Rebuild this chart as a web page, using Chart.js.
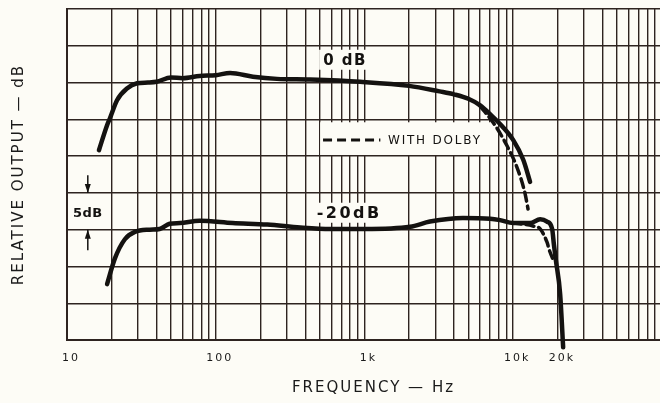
<!DOCTYPE html>
<html>
<head>
<meta charset="utf-8">
<script src="https://cdn.jsdelivr.net/npm/chart.js@4.4.1/dist/chart.umd.min.js"></script>
<style>
  html, body { margin: 0; padding: 0; overflow: hidden; background: #fdfcf6; }
  #wrap { width: 680px; height: 403px; }
</style>
</head>
<body>
<div id="wrap"><canvas id="chart" width="680" height="403"></canvas></div>
<script>
// Response at 0 dB input level (Hz, dB)
const upperFreq = [16.4, 18.6, 19.5, 21.7, 25.3, 29.6, 35, 40, 50, 60, 78, 100, 125, 178, 258, 430, 935,
  2000, 3200, 4000, 5000, 6000, 7000, 8500, 10000, 11700, 13000];
const upperLevel = [-9.2, -5.8, -4.8, -2.4, -0.8, -0.1, 0, 0.1, 0.7, 0.6, 0.9, 1.0, 1.3, 0.8, 0.5, 0.4, 0.1,
  -0.45, -1.2, -1.6, -2.2, -3.1, -4.3, -6.0, -7.8, -10.5, -13.5];

// 0 dB with Dolby (only where it leaves the plain curve)
const upperDolbyFreq = [6000, 7500, 9100, 10600, 12000, 12600];
const upperDolbyLevel = [-3.2, -5.7, -8.6, -11.5, -15.0, -17.2];

// Response at -20 dB input level
const lowerFreq = [18.6, 21, 24.5, 28.6, 36, 42, 49, 57.5, 78, 130, 222, 370, 590, 1000, 2030, 2760,
  4600, 7000, 8170, 10000, 13000, 15200, 16900, 18300, 18800, 19400, 20700, 21700];
const lowerLevel = [-27.4, -23.9, -21.3, -20.3, -20.0, -19.9, -19.2, -19.1, -18.8, -19.1, -19.3, -19.7, -19.9, -19.9, -19.6, -18.9,
  -18.4, -18.5, -18.7, -19.1, -19.1, -18.6, -18.9, -19.9, -22.0, -24.2, -28.7, -36.0];

// -20 dB with Dolby
const lowerDolbyFreq = [10000, 13600, 15200, 16900, 17600, 19000];
const lowerDolbyLevel = [-19.1, -19.5, -19.9, -21.7, -22.9, -24.5];

// labelled frequencies on the x axis
const tickValues = [10, 100, 1000, 10000, 20000];
const tickText = ['10', '100', '1k', '10k', '20k'];

const ink = '#141210';
const gridInk = '#2e2420';
const paper = '#fdfcf6';
const freqMax = 132500;

const toPoints = (xs, ys) => xs.map((x, i) => ({ x, y: ys[i] }));

// every 1..9 step of each decade gets a grid line (only inside the axis range)
const gridFreqs = [];
for (let d = 10; d <= 100000; d *= 10) {
  for (let m = 1; m <= 9; m++) {
    if (d * m <= freqMax) gridFreqs.push(d * m);
  }
}

// text and marks written on the chart, placed in data units
const notes = [
  { text: '0 dB', freq: 741, level: 3.1, font: 'bold 15px "DejaVu Sans"', spacing: 1.5, box: true },
  { text: '-20dB', freq: 790, level: -17.7, font: 'bold 16px "DejaVu Sans"', spacing: 2.5, box: true },
  { text: '5dB', freq: 13.8, level: -17.7, font: 'bold 13px "DejaVu Sans"', spacing: 0.5, box: false }
];

const annotate = {
  id: 'annotate',
  beforeDraw(chart) {
    chart.ctx.letterSpacing = '2px';
  },
  beforeDatasetsDraw(chart) {
    const { ctx, scales: { x, y } } = chart;
    ctx.save();
    ctx.strokeStyle = ink;
    ctx.textAlign = 'center';
    ctx.textBaseline = 'middle';

    notes.forEach(n => {
      ctx.font = n.font;
      ctx.letterSpacing = n.spacing + 'px';
      const px = x.getPixelForValue(n.freq);
      const py = y.getPixelForValue(n.level);
      if (n.box) {
        const w = ctx.measureText(n.text).width + 8;
        ctx.fillStyle = paper;
        ctx.fillRect(px - w / 2, py - 10, w, 20);
      }
      ctx.fillStyle = ink;
      ctx.fillText(n.text, px, py + 1);
    });

    // legend for the dashed curves
    const bx0 = x.getPixelForValue(504), bx1 = x.getPixelForValue(7200);
    const by0 = y.getPixelForValue(-5.4), by1 = y.getPixelForValue(-9.85);
    ctx.fillStyle = paper;
    ctx.fillRect(bx0, by0, bx1 - bx0, by1 - by0);
    const ly = y.getPixelForValue(-7.8);
    ctx.lineWidth = 3;
    ctx.setLineDash([9, 5]);
    ctx.beginPath();
    ctx.moveTo(x.getPixelForValue(527), ly);
    ctx.lineTo(x.getPixelForValue(1280), ly);
    ctx.stroke();
    ctx.setLineDash([]);
    ctx.fillStyle = ink;
    ctx.font = '12px "DejaVu Sans"';
    ctx.letterSpacing = '1.8px';
    ctx.textAlign = 'left';
    ctx.fillText('WITH DOLBY', x.getPixelForValue(1440), ly + 1);

    // 5 dB span arrows
    const ax = x.getPixelForValue(13.8);
    const arrow = (tail, tip) => {
      const t0 = y.getPixelForValue(tail), t1 = y.getPixelForValue(tip);
      const dir = Math.sign(t1 - t0);
      ctx.lineWidth = 1.5;
      ctx.beginPath();
      ctx.moveTo(ax, t0);
      ctx.lineTo(ax, t1);
      ctx.stroke();
      ctx.beginPath();
      ctx.moveTo(ax, t1);
      ctx.lineTo(ax - 3, t1 - dir * 9);
      ctx.lineTo(ax + 3, t1 - dir * 9);
      ctx.closePath();
      ctx.fill();
    };
    arrow(-12.6, -15);
    arrow(-22.8, -20);
    ctx.restore();
  }
};

new Chart(document.getElementById('chart'), {
  type: 'scatter',
  data: {
    datasets: [
      {
        data: toPoints(upperDolbyFreq, upperDolbyLevel),
        borderDash: [9, 5], borderWidth: 3.5, order: 0
      },
      {
        data: toPoints(lowerDolbyFreq, lowerDolbyLevel),
        borderDash: [8, 5], borderWidth: 3.5, order: 0
      },
      {
        data: toPoints(upperFreq, upperLevel),
        borderWidth: 4.5, order: 1
      },
      {
        data: toPoints(lowerFreq, lowerLevel),
        borderWidth: 4.5, order: 1
      }
    ].map(ds => Object.assign({
      showLine: true,
      borderColor: ink,
      pointRadius: 0,
      tension: 0.4,
      cubicInterpolationMode: 'monotone',
      borderCapStyle: 'round',
      clip: { left: 2, top: 2, right: 2, bottom: 12 }
    }, ds))
  },
  options: {
    responsive: false,
    animation: false,
    layout: { padding: { top: 9, right: 0, left: 0, bottom: 0 } },
    plugins: {
      legend: { display: false },
      tooltip: { enabled: false }
    },
    scales: {
      x: {
        type: 'logarithmic',
        min: 10,
        max: freqMax,
        afterBuildTicks: scale => {
          scale.ticks = gridFreqs.map(v => ({ value: v }));
        },
        afterFit: scale => {
          scale.height = 63;
          scale.paddingLeft = 0;
          scale.paddingRight = 0;
        },
        grid: { color: gridInk, lineWidth: 1.4, drawTicks: false },
        border: { color: gridInk, width: 2 },
        ticks: {
          autoSkip: false,
          maxRotation: 0,
          padding: 12,
          labelOffset: 4,
          color: '#1a1a1a',
          font: { family: 'DejaVu Sans', size: 11 },
          callback: value => {
            const i = tickValues.indexOf(Math.round(value));
            return i >= 0 ? tickText[i] : '';
          }
        },
        title: {
          display: true,
          text: 'FREQUENCY — Hz',
          color: '#1a1a1a',
          font: { family: 'DejaVu Sans', size: 15 },
          padding: { top: 0, bottom: 6 }
        }
      },
      y: {
        min: -35,
        max: 10,
        afterFit: scale => { scale.width = 67; },
        grid: { color: gridInk, lineWidth: 1.4, drawTicks: false },
        border: { color: gridInk, width: 2 },
        ticks: { stepSize: 5, display: false },
        title: {
          display: true,
          text: 'RELATIVE OUTPUT — dB',
          color: '#1a1a1a',
          font: { family: 'DejaVu Sans', size: 15 },
          padding: { top: 10, bottom: 0 }
        }
      }
    }
  },
  plugins: [annotate]
});
</script>
</body>
</html>
